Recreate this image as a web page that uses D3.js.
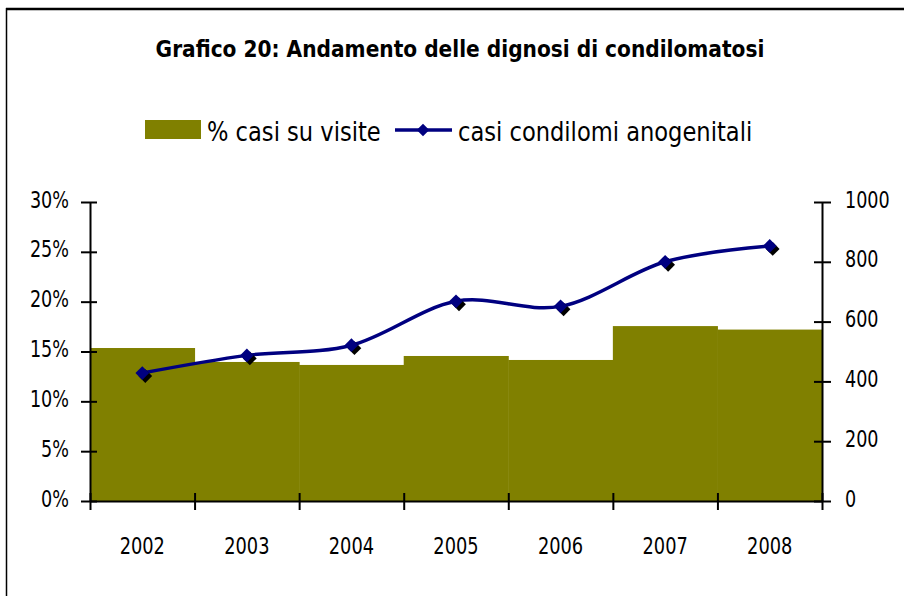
<!DOCTYPE html>
<meta charset="UTF-8">
<style>
body { margin: 0; background: #fff; }
.tick text, .year { font-family: 'DejaVu Sans Condensed', 'DejaVu Sans', sans-serif; font-size: 23px; fill: #000; }
.legend text { font-family: 'DejaVu Sans Condensed', 'DejaVu Sans', sans-serif; font-size: 27px; fill: #000; }
.title { font-family: 'DejaVu Sans Condensed', 'DejaVu Sans', sans-serif; font-size: 23px; font-weight: bold; }
</style>
<body>
<svg id="chart" width="904" height="596"></svg>
<script src="https://d3js.org/d3.v7.min.js"></script>
<script>

// data
var years = ["2002", "2003", "2004", "2005", "2006", "2007", "2008"];
var pctCasi = [0.1535, 0.1395, 0.1365, 0.1455, 0.1415, 0.1755, 0.172];
var casiCondilomi = [428, 487, 521, 668, 651, 800, 853];
var pctTicks = [0, 0.05, 0.10, 0.15, 0.20, 0.25, 0.30];
var casiTicks = [0, 200, 400, 600, 800, 1000];

var olive = "#808000",
    navy = "#000080";

var margin = {top: 202, right: 82, bottom: 95, left: 90},
    width = 904 - margin.left - margin.right,
    height = 596 - margin.top - margin.bottom;

var svg = d3.select("#chart");

// the original font is narrower than DejaVu Condensed, so squeeze text horizontally
function squeeze(sel, k) {
  sel.each(function() {
    var t = d3.select(this);
    var xv = +t.attr("x") || 0;
    t.attr("x", xv / k).attr("transform", "scale(" + k + ",1)");
  });
}

// frame (only top and left edges show)
svg.append("line").attr("x1", 6).attr("x2", 904).attr("y1", 9).attr("y2", 9)
    .attr("stroke", "#000").attr("stroke-width", 2.5);
svg.append("line").attr("x1", 6.5).attr("x2", 6.5).attr("y1", 8).attr("y2", 596)
    .attr("stroke", "#000").attr("stroke-width", 1.5);

svg.append("text").attr("class", "title")
    .attr("x", 460).attr("y", 57)
    .attr("text-anchor", "middle")
    .text("Grafico 20: Andamento delle dignosi di condilomatosi")
    .call(squeeze, 0.975);

var g = svg.append("g")
    .attr("transform", "translate(" + margin.left + "," + margin.top + ")");

var x = d3.scaleBand().domain(years).range([0, width]).padding(0);
var yL = d3.scaleLinear().domain([0, 0.3]).range([height, 0]);
var yR = d3.scaleLinear().domain([0, 1000]).range([height, 0]);

// bars
g.selectAll("rect.bar")
    .data(years)
  .enter().append("rect")
    .attr("class", "bar")
    .attr("x", function(d) { return x(d); })
    .attr("width", x.bandwidth() + 0.5)
    .attr("y", function(d, i) { return yL(pctCasi[i]); })
    .attr("height", function(d, i) { return height - yL(pctCasi[i]); })
    .attr("fill", olive);

// axes
function styleAxis(sel) {
  sel.select(".domain").attr("stroke", "#000").attr("stroke-width", 2);
  sel.selectAll(".tick line").attr("stroke", "#000").attr("stroke-width", 2);
}

var axL = g.append("g")
    .call(d3.axisLeft(yL).tickValues(pctTicks).tickFormat(d3.format(".0%"))
      .tickSizeInner(9).tickSizeOuter(0).tickPadding(12));
axL.selectAll(".tick line").attr("x2", 7).attr("x1", -9);
axL.selectAll(".tick text").attr("dy", "0.22em").call(squeeze, 0.85);
styleAxis(axL);

var axR = g.append("g")
    .attr("transform", "translate(" + width + ",0)")
    .call(d3.axisRight(yR).tickValues(casiTicks).tickFormat(d3.format("d"))
      .tickSizeInner(9).tickSizeOuter(0).tickPadding(14));
axR.selectAll(".tick line").attr("x1", -8).attr("x2", 9);
axR.selectAll(".tick text").attr("dy", "0.22em").call(squeeze, 0.85);
styleAxis(axR);

// x axis: ticks on band boundaries, labels at band centres
var xb = d3.scaleLinear().domain([0, years.length]).range([0, width]);
var axX = g.append("g")
    .attr("transform", "translate(0," + height + ")")
    .call(d3.axisBottom(xb).ticks(years.length).tickFormat("")
      .tickSizeInner(9).tickSizeOuter(0));
axX.selectAll(".tick line").attr("y1", -8).attr("y2", 9);
styleAxis(axX);

g.selectAll("text.year")
    .data(years)
  .enter().append("text")
    .attr("class", "year")
    .attr("x", function(d) { return x(d) + x.bandwidth() / 2; })
    .attr("y", height + 53)
    .attr("text-anchor", "middle")
    .text(function(d) { return d; })
    .call(squeeze, 0.86);

// smoothed line
var pts = years.map(function(d, i) {
  return [x(d) + x.bandwidth() / 2, yR(casiCondilomi[i])];
});

var line = d3.line().curve(d3.curveCardinal.tension(0));

g.append("path")
    .attr("d", line(pts))
    .attr("fill", "none")
    .attr("stroke", navy)
    .attr("stroke-width", 3.5);

var diamond = d3.symbol().type(d3.symbolDiamond2).size(120);

// marker shadows then markers
g.selectAll("path.shadow")
    .data(pts)
  .enter().append("path")
    .attr("class", "shadow")
    .attr("d", diamond)
    .attr("transform", function(d) { return "translate(" + (d[0] + 3) + "," + (d[1] + 3) + ")"; })
    .attr("fill", "#000");

g.selectAll("path.marker")
    .data(pts)
  .enter().append("path")
    .attr("class", "marker")
    .attr("d", diamond)
    .attr("transform", function(d) { return "translate(" + d[0] + "," + d[1] + ")"; })
    .attr("fill", navy);

// legend
var legend = svg.append("g").attr("class", "legend");

legend.append("rect")
    .attr("x", 145).attr("y", 120).attr("width", 56).attr("height", 19)
    .attr("fill", olive);
legend.append("text")
    .attr("x", 207).attr("y", 141)
    .text("% casi su visite")
    .call(squeeze, 0.93);

legend.append("line")
    .attr("x1", 395).attr("x2", 452).attr("y1", 130).attr("y2", 130)
    .attr("stroke", navy).attr("stroke-width", 3.5);
legend.append("path")
    .attr("d", d3.symbol().type(d3.symbolDiamond2).size(100))
    .attr("transform", "translate(423,130)")
    .attr("fill", navy);
legend.append("text")
    .attr("x", 458).attr("y", 141)
    .text("casi condilomi anogenitali")
    .call(squeeze, 0.93);

</script>
</body>
